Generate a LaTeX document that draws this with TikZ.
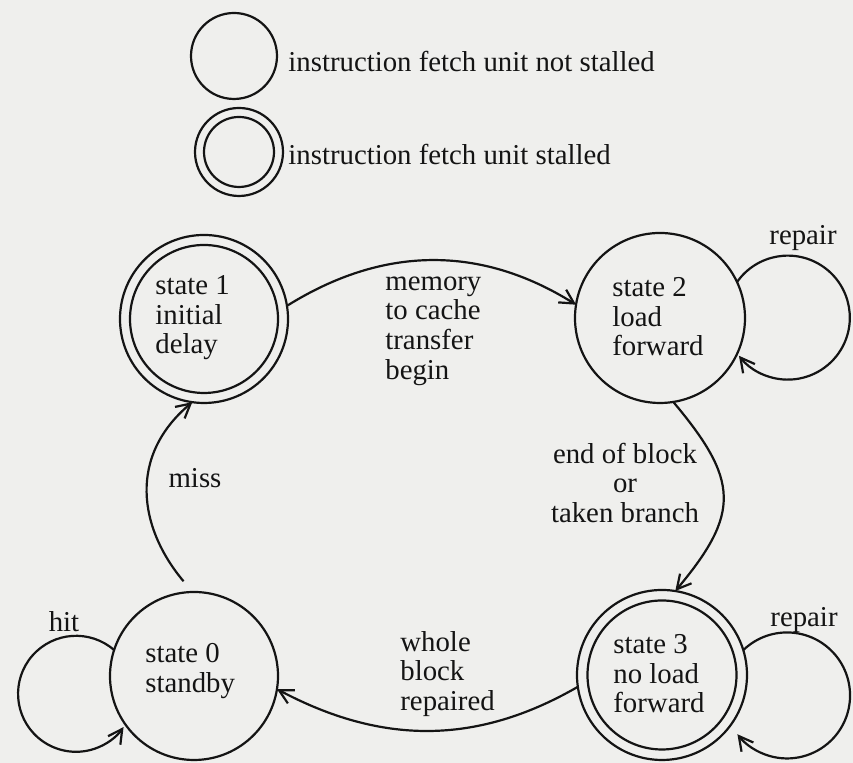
\documentclass[tikz,border=0pt]{standalone}
\usepackage{fontspec}
\setmainfont{Liberation Serif}
\usetikzlibrary{arrows.meta}
\definecolor{paper}{RGB}{239,239,237}
\definecolor{ink}{RGB}{20,20,20}
\begin{document}
\begin{tikzpicture}[x=0.5pt,y=0.5pt,
  every node/.style={font=\fontsize{14.4}{14.8}\selectfont, text=ink},
  st/.style={circle,draw=ink,line width=1.1pt,inner sep=0pt,outer sep=0pt},
  lbl/.style={inner sep=0pt,align=left},
  arr/.style={draw=ink,line width=1.1pt,-{Straight Barb[length=7pt,width=7.5pt,line width=1.1pt]}}
]
\fill[paper] (0,0) rectangle (853,763);
\useasboundingbox (0,0) rectangle (853,763);

% legend
\node[st,minimum size=43pt] (leg1) at (234,707) {};
\node[lbl,anchor=west] (legt1) at (288,701) {instruction fetch unit not stalled};
\node[st,minimum size=44pt] (leg2) at (239,611) {};
\node[st,minimum size=35pt] (leg2i) at (239,611) {};
\node[lbl,anchor=west] (legt2) at (288,608) {instruction fetch unit stalled};

% states
\node[st,minimum size=84pt] (s1) at (204,444) {};
\node[st,minimum size=74pt] (s1i) at (204,444) {};
\node[lbl,anchor=west] (t1) at (155,445) {state 1\\initial\\delay};

\node[st,minimum size=85pt] (s2) at (660,445) {};
\node[lbl,anchor=west] (t2) at (612,446) {state 2\\load\\forward};

\node[st,minimum size=85pt] (s3) at (662,88) {};
\node[st,minimum size=74.5pt] (s3i) at (662,88) {};
\node[lbl,anchor=west] (t3) at (613,89) {state 3\\no load\\forward};

\node[st,minimum size=84pt] (s0) at (194,87) {};
\node[lbl,anchor=west] (t0) at (145,92) {state 0\\standby};

% edge labels
\node[lbl,anchor=west] (lmem) at (385,432) {memory\\to cache\\transfer\\begin};
\node[lbl,align=center] (lend) at (625,280) {end of block\\or\\taken branch};
\node[lbl,anchor=west] (lwhole) at (400,89) {whole\\block\\repaired};
\node[lbl] (lmiss) at (195,285) {miss};
\node[lbl] (lhit) at (64,141) {hit};
\node[lbl] (lrep2) at (803,525) {repair};
\node[lbl] (lrep3) at (804,143) {repair};

% connectors
\draw[arr] (s1.9.5) to[out=32,in=148] (s2.171);
\draw[arr] (s2.-81) .. controls +(-50:102) and +(50:102) .. (s3.81);
\draw[arr] (s3.188) to[out=210,in=-28] (s0.-9);
\draw[arr,shorten <=7pt] (s0.91) .. controls +(130:84) and +(-140:84) .. (s1.-98);

% self loops
\draw[arr] (s2.25) arc[start angle=145,end angle=-142,radius=62];
\draw[arr] (s3.17) arc[start angle=134,end angle=-142,radius=63];
\draw[arr] (s0.162) arc[start angle=49,end angle=325,radius=58];
\end{tikzpicture}
\end{document}
